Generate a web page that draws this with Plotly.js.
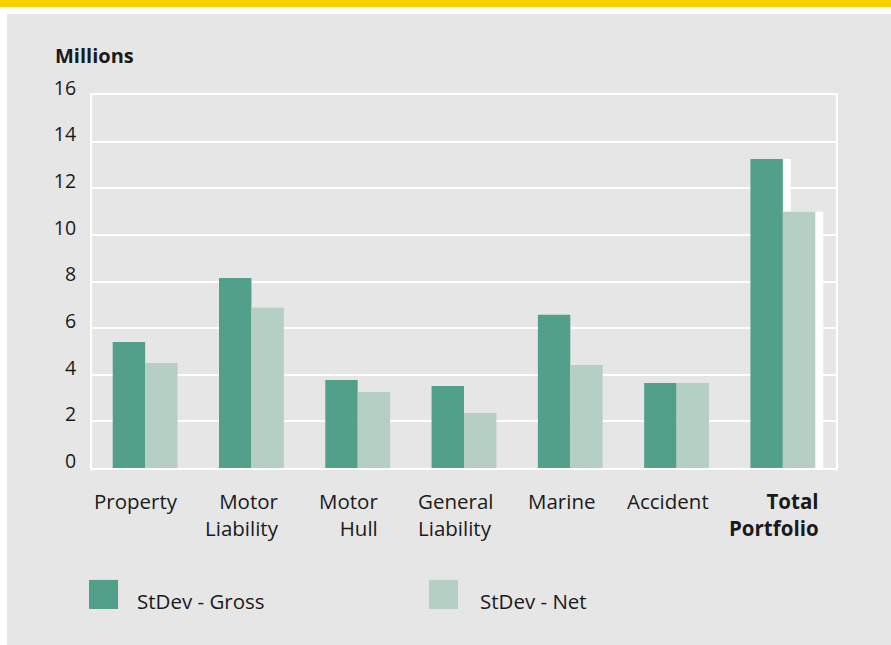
<!DOCTYPE html>
<html>
<head>
<meta charset="utf-8">
<script src="https://cdn.plot.ly/plotly-3.0.1.min.js"></script>
<style>html,body{margin:0;padding:0;background:#fff;}#chart{width:891px;height:645px;}</style>
</head>
<body>
<div id="chart"></div>
<script>
const categories = ["Property", "Motor<br>Liability", "Motor<br>Hull", "General<br>Liability", "Marine", "Accident", "<b>Total<br>Portfolio</b>"];
const grossValues = [5.4, 8.15, 3.78, 3.52, 6.57, 3.65, 13.26];
const netValues = [4.5, 6.87, 3.26, 2.36, 4.42, 3.65, 10.99];
const seriesNames = ["StDev - Gross", "StDev - Net"];
const yTicks = [0, 2, 4, 6, 8, 10, 12, 14, 16];
const labelAlign = ["center", "right", "right", "left", "center", "center", "right"];

const GROSS = "#52A08A", NET = "#B5CFC4";
const FONT = "Open Sans, Noto Sans, sans-serif";
const W = 0.305, SH = 0.075;
const last = categories.length - 1;

const traces = [
  // white shadows behind the total portfolio bars
  {type: "bar", x: [categories[last]], y: [grossValues[last]], offset: -W + SH, width: W,
   marker: {color: "#ffffff"}, hoverinfo: "skip", showlegend: false},
  {type: "bar", x: [categories[last]], y: [netValues[last]], offset: SH, width: W,
   marker: {color: "#ffffff"}, hoverinfo: "skip", showlegend: false},
  {type: "bar", name: seriesNames[0], x: categories, y: grossValues, offset: -W, width: W,
   marker: {color: GROSS}, showlegend: false},
  {type: "bar", name: seriesNames[1], x: categories, y: netValues, offset: 0, width: W,
   marker: {color: NET}, showlegend: false}
];

const annotations = categories.map((c, i) => ({
  xref: "x", yref: "paper", x: c, y: -0.045, xanchor: "center", yanchor: "top",
  xshift: -9, text: c, showarrow: false, align: labelAlign[i],
  font: {family: FONT, size: 20.5, color: "#1a1a1a"}
}));
annotations.push({xref: "paper", yref: "paper", x: -0.052, y: 1.107, xanchor: "left", yanchor: "middle",
  text: "<b>Millions</b>", showarrow: false, font: {family: FONT, size: 20, color: "#1a1a1a"}});
annotations.push({xref: "paper", yref: "paper", x: 0.058, y: -0.357, xanchor: "left", yanchor: "middle",
  text: seriesNames[0], showarrow: false, font: {family: FONT, size: 20.5, color: "#1a1a1a"}});
annotations.push({xref: "paper", yref: "paper", x: 0.519, y: -0.357, xanchor: "left", yanchor: "middle",
  text: seriesNames[1], showarrow: false, font: {family: FONT, size: 20.5, color: "#1a1a1a"}});

const shapes = [
  {type: "rect", xref: "paper", yref: "paper", x0: -0.1142, x1: 1.08, y0: -0.48, y1: 1.217,
   fillcolor: "#E6E6E6", line: {width: 0}, layer: "below"},
  {type: "rect", xref: "paper", yref: "paper", x0: -0.13, x1: 1.08, y0: 1.236, y1: 1.26,
   fillcolor: "#F7D100", line: {width: 0}, layer: "below"},
  {type: "rect", xref: "paper", yref: "paper", x0: -0.004, x1: 0.035, y0: -0.378, y1: -0.300,
   fillcolor: GROSS, line: {width: 0}},
  {type: "rect", xref: "paper", yref: "paper", x0: 0.453, x1: 0.492, y0: -0.378, y1: -0.300,
   fillcolor: NET, line: {width: 0}}
];

const layout = {
  width: 891, height: 645,
  margin: {l: 92, r: 55, t: 95, b: 177},
  paper_bgcolor: "#ffffff", plot_bgcolor: "rgba(0,0,0,0)",
  barmode: "overlay",
  showlegend: false,
  font: {family: FONT, size: 19, color: "#1a1a1a"},
  xaxis: {type: "category", categoryorder: "array", categoryarray: categories,
    showticklabels: false, showgrid: false, zeroline: false,
    showline: true, linecolor: "#ffffff", linewidth: 2, mirror: true, ticks: ""},
  yaxis: {range: [0, 16], autorange: false, tickvals: yTicks, ticktext: yTicks.map(String),
    showgrid: true, gridcolor: "#ffffff", gridwidth: 2, zeroline: false,
    showline: true, linecolor: "#ffffff", linewidth: 2, mirror: true, ticks: "",
    ticklabelstandoff: 10, ticklabelshift: -7,
    tickfont: {family: FONT, size: 19.5, color: "#1a1a1a"}},
  annotations: annotations,
  shapes: shapes
};

Plotly.newPlot("chart", traces, layout, {displayModeBar: false, staticPlot: true});
</script>
</body>
</html>
